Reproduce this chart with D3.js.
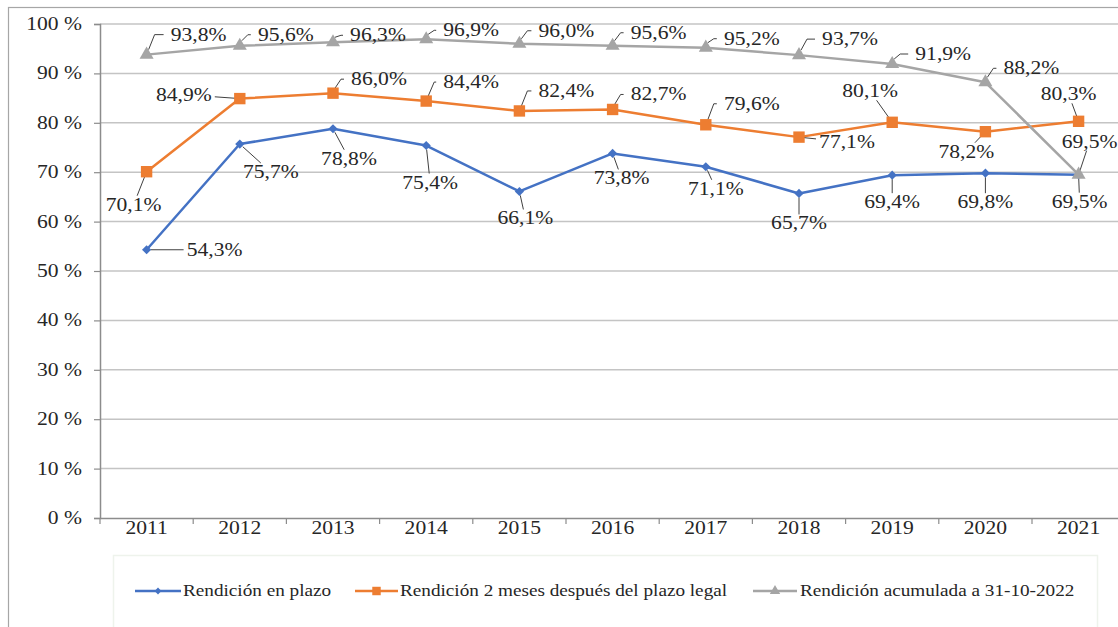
<html>
<head>
<meta charset="utf-8">
<title>Rendición de cuentas</title>
<script src="https://cdn.jsdelivr.net/npm/d3@7"></script>
<style>
  body { margin: 0; background: #fff; }
  svg text { font-family: 'Liberation Serif', 'Times New Roman', Times, serif; fill: #262626; }
</style>
</head>
<body>
<svg id="chart" width="1118" height="627"></svg>

<script type="text/javascript">
  // data
  var years = ["2011", "2012", "2013", "2014", "2015", "2016", "2017", "2018", "2019", "2020", "2021"];
  var yTicks = [0, 10, 20, 30, 40, 50, 60, 70, 80, 90, 100];
  var seriesNames = ["Rendición en plazo", "Rendición 2 meses después del plazo legal", "Rendición acumulada a 31-10-2022"];
  var enPlazo = [54.3, 75.7, 78.8, 75.4, 66.1, 73.8, 71.1, 65.7, 69.4, 69.8, 69.5];
  var dosMeses = [70.1, 84.9, 86.0, 84.4, 82.4, 82.7, 79.6, 77.1, 80.1, 78.2, 80.3];
  var acumulada = [93.8, 95.6, 96.3, 96.9, 96.0, 95.6, 95.2, 93.7, 91.9, 88.2, 69.5];

  // label placement: text centre offset from the point, and leader style (e = elbow, l = straight)
  var labelsEnPlazo = [[68,0,"l"],[31,28,"l"],[16,30,"l"],[4,37,"l"],[6,27,"l"],[9,25,"l"],[10,22,"l"],[0,30,"l"],[0,27,"l"],[0,29,"l"],[1,27,"l"]];
  var labelsDosMeses = [[-13,33,"l"],[-56,-4,"l"],[46,-14,"e"],[45,-19,"e"],[47,-20,"e"],[46,-15,"e"],[46,-21,"e"],[48,5,"l"],[-22,-31,"l"],[-19,20,"l"],[-10,-27,"l"]];
  var labelsAcumulada = [[52,-20,"e"],[46,-11,"e"],[45,-7,"e"],[45,-9,"e"],[47,-13,"e"],[46,-13,"e"],[46,-9,"e"],[51,-16,"e"],[51,-10,"e"],[46,-14,"e"],[11,-33,"l"]];

  var series = [
    {name: seriesNames[0], values: enPlazo, labels: labelsEnPlazo, color: "#4472C4", symbol: d3.symbolSquare, size: 42, rot: 45},
    {name: seriesNames[1], values: dosMeses, labels: labelsDosMeses, color: "#ED7D31", symbol: d3.symbolSquare, size: 130, rot: 0},
    {name: seriesNames[2], values: acumulada, labels: labelsAcumulada, color: "#A5A5A5", symbol: d3.symbolTriangle, size: 85, rot: 0}
  ];

  var svg = d3.select("#chart");
  var plotLeft = 100, plotTop = 24, plotBottom = 518, step = 93.2;

  var x = d3.scaleBand().domain(years).range([plotLeft, plotLeft + step * years.length]);
  var y = d3.scaleLinear().domain([0, 100]).range([plotBottom, plotTop]);
  var cx = function(i) { return x(years[i]) + x.bandwidth() / 2; };

  function stretched(sel, px, py, size, anchor, str) {
    return sel.append("text")
      .attr("transform", "translate(" + px + "," + py + ") scale(1.2,1)")
      .attr("text-anchor", anchor)
      .attr("font-family", "Liberation Serif")
      .attr("font-size", size)
      .text(str);
  }

  // outer frame
  svg.append("rect")
    .attr("x", 8.5).attr("y", 7.5).attr("width", 1200).attr("height", 700)
    .attr("fill", "none").attr("stroke", "#a6a6a6").attr("stroke-width", 1.2);

  // grid
  svg.append("g").selectAll("line")
    .data(yTicks.filter(function(d) { return d > 0; }))
    .enter().append("line")
      .attr("x1", plotLeft).attr("x2", 1118)
      .attr("y1", function(d) { return y(d); }).attr("y2", function(d) { return y(d); })
      .attr("stroke", "#c4c4c4").attr("stroke-width", 1.5);

  // y axis
  var yAxis = svg.append("g")
    .attr("transform", "translate(" + plotLeft + ",0)")
    .call(d3.axisLeft(y).tickValues(yTicks).tickSize(6).tickFormat(""));
  yAxis.select(".domain").attr("stroke", "#8c8c8c").attr("stroke-width", 1.5);
  yAxis.selectAll(".tick line").attr("stroke", "#8c8c8c").attr("stroke-width", 1.2);
  var yLab = svg.append("g");
  yTicks.forEach(function(d) {
    stretched(yLab, 82, y(d) + 6, 18, "end", d + " %");
  });

  // x axis
  var xAxis = svg.append("g")
    .attr("transform", "translate(0," + plotBottom + ")")
    .call(d3.axisBottom(x).tickSize(0).tickFormat(""));
  xAxis.select(".domain").attr("stroke", "#8c8c8c").attr("stroke-width", 1.5);
  svg.append("g").selectAll("line")
    .data(d3.range(years.length + 1))
    .enter().append("line")
      .attr("x1", function(i) { return plotLeft + i * x.step(); })
      .attr("x2", function(i) { return plotLeft + i * x.step(); })
      .attr("y1", plotBottom).attr("y2", plotBottom + 6)
      .attr("stroke", "#8c8c8c").attr("stroke-width", 1.2);
  var xLab = svg.append("g");
  years.forEach(function(d, i) {
    stretched(xLab, cx(i), 534, 18, "middle", d);
  });

  // lines
  var line = d3.line()
    .x(function(d, i) { return cx(i); })
    .y(function(d) { return y(d); });

  series.forEach(function(s) {
    svg.append("path")
      .datum(s.values)
      .attr("d", line)
      .attr("fill", "none")
      .attr("stroke", s.color)
      .attr("stroke-width", 2.5)
      .attr("stroke-linejoin", "round");
  });

  // labels with leader lines
  var labG = svg.append("g");
  var hw = 31, hh = 9;
  series.forEach(function(s) {
    s.values.forEach(function(v, i) {
      var px = cx(i), py = y(v);
      var l = s.labels[i];
      var tx = px + l[0], ty = py + l[1];
      var pts;
      if (l[2] === "e") {
        pts = [[px + 2, py - 5], [px + 8, ty], [tx - hw - 4, ty]];
      } else {
        var ddx = px - tx, ddy = py - ty;
        var t = Math.min(ddx !== 0 ? hw / Math.abs(ddx) : Infinity, ddy !== 0 ? hh / Math.abs(ddy) : Infinity);
        var sx = tx + ddx * t, sy = ty + ddy * t;
        var len = Math.sqrt(ddx * ddx + ddy * ddy);
        pts = [[sx, sy], [px - ddx / len * 4, py - ddy / len * 4]];
      }
      labG.append("path")
        .attr("d", d3.line()(pts))
        .attr("fill", "none")
        .attr("stroke", "#404040")
        .attr("stroke-width", 1);
      stretched(labG, tx, ty + 6, 18, "middle", d3.format(".1f")(v).replace(".", ",") + "%");
    });
  });

  // markers
  series.forEach(function(s) {
    svg.append("g").selectAll("path")
      .data(s.values)
      .enter().append("path")
        .attr("transform", function(d, i) { return "translate(" + cx(i) + "," + y(d) + ") rotate(" + s.rot + ")"; })
        .attr("d", d3.symbol().type(s.symbol).size(s.size))
        .attr("fill", s.color);
  });

  // legend
  var leg = svg.append("g");
  leg.append("rect")
    .attr("x", 113.5).attr("y", 555.5).attr("width", 984).attr("height", 120)
    .attr("fill", "none").attr("stroke", "#eef3ec").attr("stroke-width", 1.5);
  var legItems = [
    {x1: 135, x2: 181, tx: 183},
    {x1: 355, x2: 398, tx: 400},
    {x1: 753, x2: 797, tx: 800}
  ];
  series.forEach(function(s, i) {
    var it = legItems[i];
    leg.append("line")
      .attr("x1", it.x1).attr("x2", it.x2).attr("y1", 591).attr("y2", 591)
      .attr("stroke", s.color).attr("stroke-width", 2.5);
    leg.append("path")
      .attr("transform", "translate(" + (it.x1 + it.x2) / 2 + ",591) rotate(" + s.rot + ")")
      .attr("d", d3.symbol().type(s.symbol).size(s.size * 0.55))
      .attr("fill", s.color);
    stretched(leg, it.tx, 596, 16, "start", s.name);
  });
</script>
</body>
</html>
